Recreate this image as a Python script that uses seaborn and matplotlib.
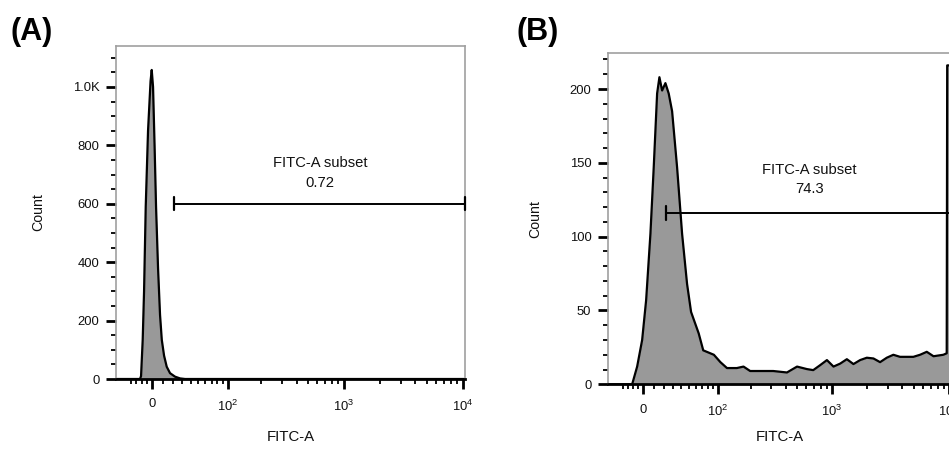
import numpy as np
import matplotlib
matplotlib.use("Agg")
import matplotlib.pyplot as plt
from matplotlib.ticker import FixedLocator, FixedFormatter
import seaborn as sns
import pandas as pd

# ---------------- data ----------------
# Panel A histogram: FITC-A channel value vs. event count
a_fitc = [-37, -21.5, -11.5, -10.5, -8.9, -7.6, -6.0, -3.8, -1.4, -0.3, 0.95, 2.4,
          3.8, 5.7, 7.6, 9.3, 11.5, 14.1, 17.4, 22.5, 27.9, 33.5, 10430]
a_count = [0, 0, 0, 10, 134, 300, 590, 850, 1020, 1058, 1000, 800,
           590, 380, 220, 134, 80, 42, 20, 8, 2, 0, 0]

# Panel B histogram
b_fitc = [-37, -10.97, -6.08, -1.25, 2.60, 6.76, 9.99, 13.35, 15.66, 18.41,
          21.85, 25.37, 29.12, 34.86, 40.96, 47.42, 52.95, 64.4, 71.9, 91.8,
          106, 122, 150, 172, 197, 313, 411, 502, 610, 691,
          793, 905, 1030, 1174, 1340, 1526, 1740, 1985, 2261, 2577,
          2940, 3346, 3818, 4357, 4960, 5660, 6458, 7374, 8943, 9561,
          9650, 10525]
b_count = [0, 0, 12, 30, 57, 102, 147, 197, 208, 199,
           204, 197, 185, 147, 102, 68, 49, 34.5, 23, 20,
           15, 11, 11, 12, 9, 9, 8, 12, 10.3, 9.6,
           13, 16.4, 12, 14, 17, 13.7, 16.4, 18, 17.5, 15,
           18, 20, 18.6, 18.6, 18.6, 20, 22, 19, 20, 21,
           216, 216]

# gates: (left, right, level), label, value
a_gate = (21.5, 10430, 600)
a_gate_text = ("FITC-A subset", "0.72")
a_text_pos = (631, 740, 671)
b_gate = (22.6, 10525, 116)
b_gate_text = ("FITC-A subset", "74.3")
b_text_pos = (642, 145, 132)

x_major = [0, 100, 1000, 10000]
x_major_labels = ["0", "$10^2$", "$10^3$", "$10^4$"]
x_minor = [-20, -15, -10, -5, 10, 20, 30, 40, 50, 60, 70, 80, 90,
           200, 300, 400, 500, 600, 700, 800, 900,
           2000, 3000, 4000, 5000, 6000, 7000, 8000, 9000]

a_y_major = [0, 200, 400, 600, 800, 1000]
a_y_labels = ["0", "200", "400", "600", "800", "1.0K"]
b_y_major = [0, 50, 100, 150, 200]
b_y_labels = ["0", "50", "100", "150", "200"]

# ---------------- style ----------------
sns.set_style("ticks")
plt.rcParams['font.family'] = ['Liberation Sans', 'DejaVu Sans']
plt.rcParams['mathtext.fontset'] = 'custom'
plt.rcParams['mathtext.rm'] = 'Liberation Sans'
plt.rcParams['mathtext.it'] = 'Liberation Sans'
plt.rcParams['text.color'] = 'black'
plt.rcParams['axes.labelcolor'] = 'black'
plt.rcParams['xtick.color'] = 'black'
plt.rcParams['ytick.color'] = 'black'

W = 49.0
def fwd(x):
    return np.arcsinh(np.asarray(x, dtype=float) / W)
def inv(u):
    return W * np.sinh(np.asarray(u, dtype=float))

fig = plt.figure(figsize=(9.49, 4.51), dpi=100)
axA = fig.add_axes([116/949, 1-379/451, 349/949, (379-46)/451])
axB = fig.add_axes([608/949, 1-384.3/451, 343.6/949, (384.3-53)/451])

fill_c = "#999999"
frame_c = "#a0a0a0"

def style(ax, xlim, ylim, ymaj, ylab, yminor):
    ax.set_xscale('function', functions=(fwd, inv))
    ax.set_xlim(*xlim)
    ax.set_ylim(*ylim)
    ax.xaxis.set_major_locator(FixedLocator(x_major))
    ax.xaxis.set_major_formatter(FixedFormatter(x_major_labels))
    ax.xaxis.set_minor_locator(FixedLocator(x_minor))
    ax.yaxis.set_major_locator(FixedLocator(ymaj))
    ax.yaxis.set_major_formatter(FixedFormatter(ylab))
    ax.yaxis.set_minor_locator(FixedLocator(yminor))
    ax.tick_params(axis='both', which='major', length=7, width=2.0,
                   color='black', labelcolor='#111111', labelsize=9.4, direction='out')
    ax.tick_params(axis='both', which='minor', length=3.8, width=1.3,
                   color='black', direction='out')
    ax.tick_params(axis='x', which='major', pad=7)
    ax.tick_params(axis='y', which='major', pad=5)
    for s in ['top', 'right', 'left']:
        ax.spines[s].set_color(frame_c)
        ax.spines[s].set_linewidth(1.2)
        ax.spines[s].set_visible(True)
    ax.spines['bottom'].set_color('black')
    ax.spines['bottom'].set_linewidth(2.0)
    ax.grid(False)

def draw(ax, xs, ys, gate, gtxt, tpos, capH, xpad):
    df = pd.DataFrame({"FITC-A": xs, "Count": ys})
    ax.fill_between(df["FITC-A"], 0, df["Count"], color=fill_c, lw=0, zorder=1)
    sns.lineplot(data=df, x="FITC-A", y="Count", ax=ax, color="black",
                 lw=1.6, sort=False, estimator=None, zorder=2)
    x0, x1, lvl = gate
    ax.plot([x0, x1], [lvl, lvl], color="black", lw=1.4, clip_on=False, zorder=3)
    ax.plot([x0, x0], [lvl - capH, lvl + capH], color="black", lw=1.6, clip_on=False, zorder=3)
    ax.plot([x1, x1], [lvl - capH, lvl + capH], color="black", lw=1.6, clip_on=False, zorder=3)
    tx, ty1, ty2 = tpos
    ax.text(tx, ty1, gtxt[0], ha='center', va='center', fontsize=10.6, color='#111111')
    ax.text(tx, ty2, gtxt[1], ha='center', va='center', fontsize=10.6, color='#111111')
    ax.set_xlabel("FITC-A", fontsize=10.8, labelpad=xpad, color='#111111')
    ax.set_ylabel("Count", fontsize=10.2, labelpad=20, color='#111111')

style(axA, (-37, 10430), (0, 1140), a_y_major, a_y_labels, list(range(0, 1141, 50)))
draw(axA, a_fitc, a_count, a_gate, a_gate_text, a_text_pos, 22, 12)

style(axB, (-37, 10525), (0, 224.4), b_y_major, b_y_labels, list(range(0, 225, 10)))
draw(axB, b_fitc, b_count, b_gate, b_gate_text, b_text_pos, 4.5, 8)

fig.text(10/949, 1-32/451, "(A)", fontsize=22, fontweight='bold', va='center', ha='left')
fig.text(517/949, 1-32/451, "(B)", fontsize=22, fontweight='bold', va='center', ha='left')

fig.savefig("out.png", dpi=100)
